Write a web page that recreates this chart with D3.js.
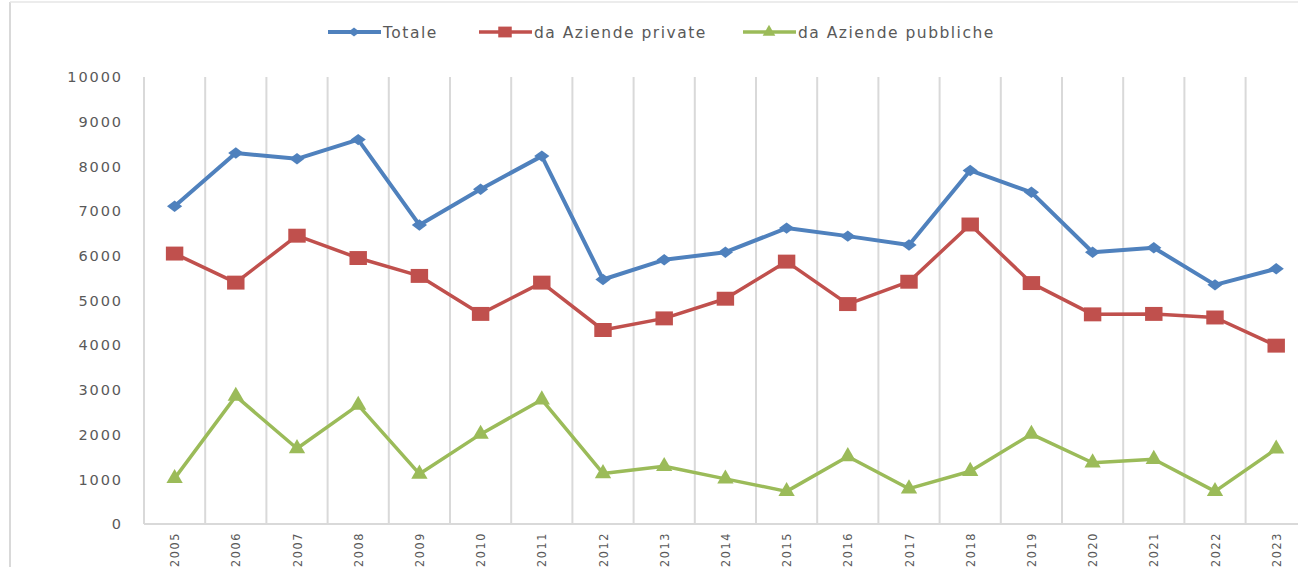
<!DOCTYPE html>
<html>
<head>
<meta charset="utf-8">
<script src="https://cdn.jsdelivr.net/npm/d3@7"></script>
<style>
  body { margin: 0; background: #fff; }
  svg { display: block; }
</style>
</head>
<body>
<script>
// dati
const years = ["2005","2006","2007","2008","2009","2010","2011","2012","2013","2014",
               "2015","2016","2017","2018","2019","2020","2021","2022","2023"];
const totale = [7110,8300,8170,8600,6690,7490,8230,5470,5910,6080,
                6620,6440,6240,7910,7420,6080,6180,5350,5710];
const private_ = [6050,5400,6450,5950,5550,4700,5400,4340,4600,5040,
                  5870,4920,5420,6700,5390,4690,4700,4620,3990];
const pubbliche = [1020,2860,1690,2660,1120,2010,2780,1130,1290,1010,
                   730,1510,790,1180,2010,1370,1450,730,1680];
const yTicks = [0,1000,2000,3000,4000,5000,6000,7000,8000,9000,10000];
const seriesNames = ["Totale","da Aziende private","da Aziende pubbliche"];

const W = 1298, H = 567;
const svg = d3.select("body").append("svg").attr("width", W).attr("height", H);

// cornice
svg.append("line").attr("x1",10).attr("x2",10).attr("y1",2).attr("y2",H)
  .attr("stroke","#d9d9d9").attr("stroke-width",2);
svg.append("line").attr("x1",10).attr("x2",W).attr("y1",2).attr("y2",2)
  .attr("stroke","#e6e6e6").attr("stroke-width",1.5);

const mLeft = 144, mTop = 77, mBottom = 524;
const step = 61.2;
const x = d3.scaleBand().domain(years).range([mLeft, mLeft + step*years.length]);
const y = d3.scaleLinear().domain([0,10000]).range([mBottom, mTop]);

// griglia verticale
svg.selectAll(".grid").data(years).enter().append("line")
  .attr("x1", d => x(d) + x.bandwidth())
  .attr("x2", d => x(d) + x.bandwidth())
  .attr("y1", mTop).attr("y2", mBottom)
  .attr("stroke","#d9d9d9").attr("stroke-width",2);

// assi
svg.append("line").attr("x1",mLeft).attr("x2",mLeft).attr("y1",mTop).attr("y2",mBottom)
  .attr("stroke","#d9d9d9").attr("stroke-width",2);
svg.append("line").attr("x1",mLeft).attr("x2",W).attr("y1",mBottom).attr("y2",mBottom)
  .attr("stroke","#d9d9d9").attr("stroke-width",2);

svg.selectAll(".ylab").data(yTicks).enter().append("text")
  .attr("x", 123).attr("y", d => y(d)).attr("dy","0.36em")
  .attr("text-anchor","end")
  .attr("font-family","DejaVu Sans").attr("font-size","14.5px")
  .attr("letter-spacing","1.9px")
  .attr("fill","#595959").text(d => d);

svg.selectAll(".xlab").data(years).enter().append("text")
  .attr("transform", d => `translate(${x(d)+x.bandwidth()/2},532) rotate(-90)`)
  .attr("dy","0.36em").attr("text-anchor","end")
  .attr("font-family","DejaVu Sans Condensed, DejaVu Sans").attr("font-size","12.5px")
  .attr("font-stretch","condensed")
  .attr("letter-spacing","1.6px")
  .attr("fill","#595959").text(d => d);

const cx = d => x(d) + x.bandwidth()/2;

// marcatori un po' schiacciati come in Excel
const wideDiamond = { draw(ctx, size) {
  const w = Math.sqrt(size) * 0.85, h = w * 0.75;
  ctx.moveTo(-w, 0); ctx.lineTo(0, -h); ctx.lineTo(w, 0); ctx.lineTo(0, h); ctx.closePath();
}};
const wideSquare = { draw(ctx, size) {
  const w = Math.sqrt(size) / 2 * 1.15, h = w * 0.8;
  ctx.rect(-w, -h, 2*w, 2*h);
}};

const series = [
  {name: seriesNames[0], values: totale, color: "#4f81bd", width: 4, sym: wideDiamond, size: 80},
  {name: seriesNames[1], values: private_, color: "#c0504d", width: 3.5, sym: wideSquare, size: 230},
  {name: seriesNames[2], values: pubbliche, color: "#9bbb59", width: 3.5, sym: d3.symbolTriangle, size: 115}
];

const line = d3.line().x((d,i) => cx(years[i])).y(d => y(d));

series.forEach(s => {
  svg.append("path").datum(s.values)
    .attr("d", line).attr("fill","none")
    .attr("stroke", s.color).attr("stroke-width", s.width)
    .attr("stroke-linejoin","round");
  svg.selectAll(null).data(s.values).enter().append("path")
    .attr("d", d3.symbol().type(s.sym).size(s.size))
    .attr("transform", (d,i) => `translate(${cx(years[i])},${y(d)})`)
    .attr("fill", s.color);
});

// legenda
const legX = [328, 479, 743];
series.forEach((s,i) => {
  const g = svg.append("g").attr("transform", `translate(${legX[i]},32)`);
  g.append("line").attr("x1",0).attr("x2",53).attr("stroke",s.color).attr("stroke-width",s.width);
  g.append("path").attr("d", d3.symbol().type(s.sym).size(s.size*0.6))
    .attr("transform","translate(26,0)").attr("fill", s.color);
  g.append("text").attr("x",55).attr("dy","0.36em")
    .attr("font-family","DejaVu Sans").attr("font-size","15.5px")
    .attr("letter-spacing","1.5px")
    .attr("fill","#595959").text(s.name);
});
</script>
</body>
</html>
